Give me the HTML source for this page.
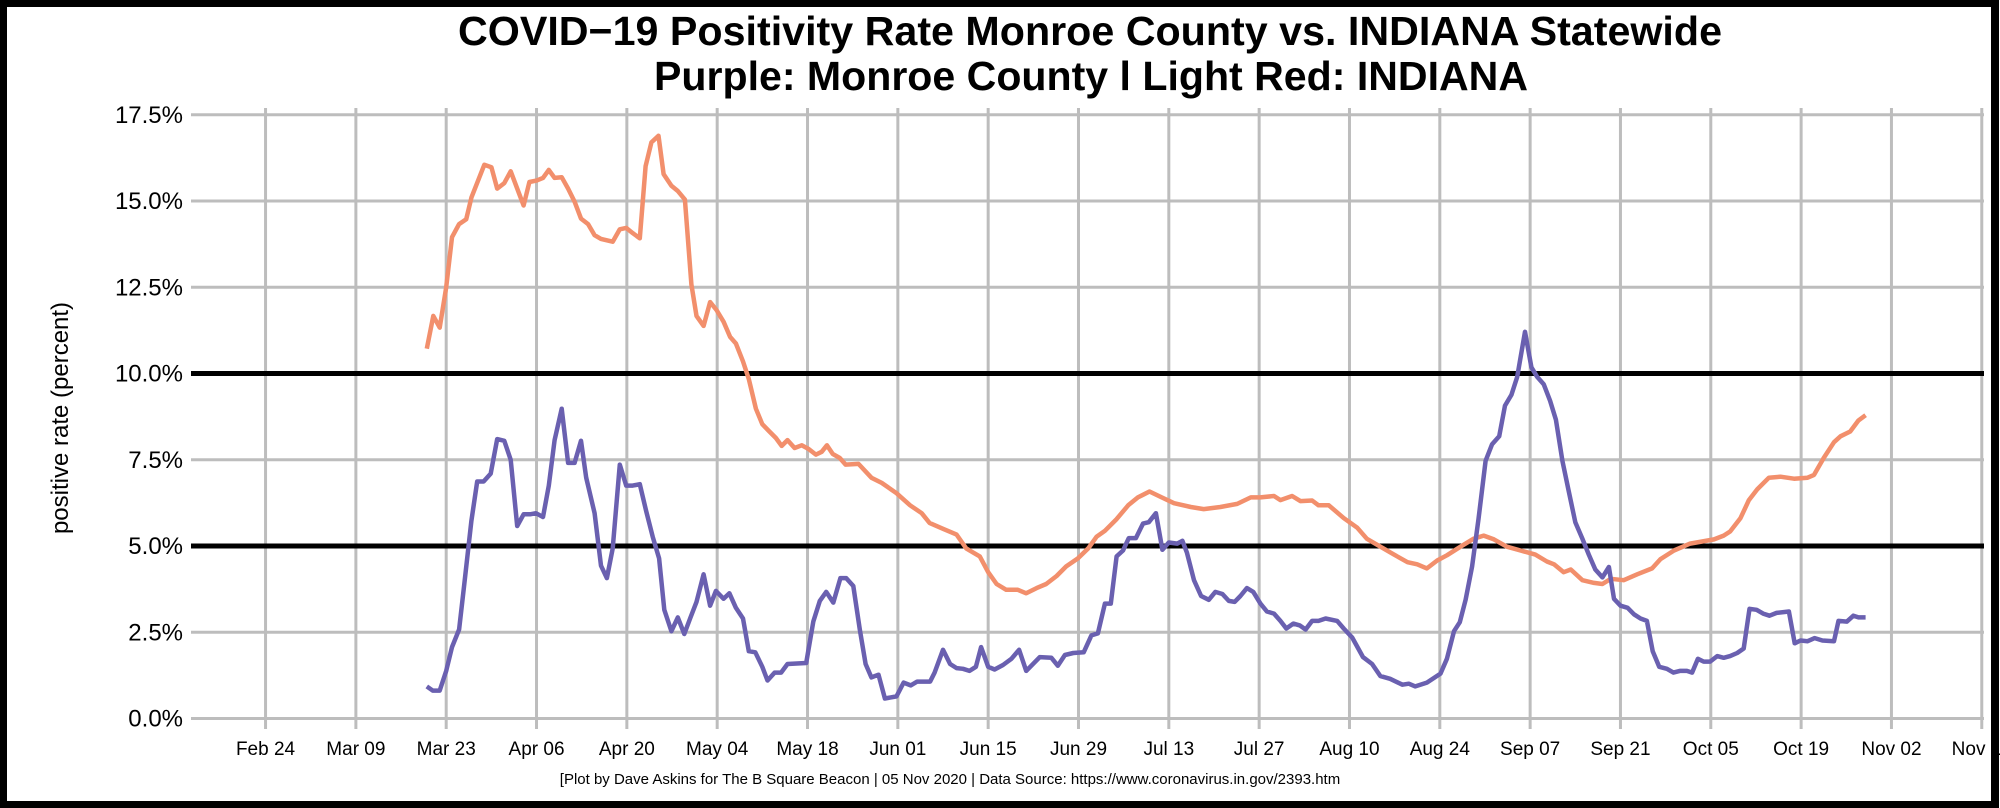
<!DOCTYPE html>
<html><head><meta charset="utf-8"><style>
html,body{margin:0;padding:0;background:#fff;}
svg{display:block;font-family:"Liberation Sans",Arial,sans-serif;}
</style></head><body>
<svg id="chart" width="2000" height="808" viewBox="0 0 2000 808">
<rect x="0" y="0" width="2000" height="808" fill="#fff"/>
<g id="grid"></g>
<g id="refs"></g>
<g id="series"></g>
<g id="axes"></g>
<text x="1090" y="45" text-anchor="middle" font-size="41" font-weight="bold" textLength="1264" lengthAdjust="spacingAndGlyphs">COVID−19 Positivity Rate Monroe County vs. INDIANA Statewide</text>
<text x="1091" y="90" text-anchor="middle" font-size="41" font-weight="bold" textLength="874" lengthAdjust="spacingAndGlyphs">Purple: Monroe County l Light Red: INDIANA</text>
<text transform="translate(68,418) rotate(-90)" text-anchor="middle" font-size="24">positive rate (percent)</text>
<text x="950" y="784" text-anchor="middle" font-size="15">[Plot by Dave Askins for The B Square Beacon | 05 Nov 2020 | Data Source: https://www.coronavirus.in.gov/2393.htm</text>
<rect x="3" y="3" width="1992" height="802" fill="none" stroke="#000" stroke-width="8"/>
</svg>
<script>
// days since Mar 23, 2020
const indianaDays = [-3,-2,-1,0,0.9,2,3.1,3.9,5.9,7,7.9,9,10,11,12,12.9,14,15,15.9,16.8,17.9,18.9,19.9,20.9,22,23,24,25.8,26.9,27.9,28.9,30,30.9,31.8,32.9,33.7,34.9,35.9,37,38,38.8,39.9,40.9,41.9,43,44,44.9,46,46.9,48,49,50.1,51.1,52,52.9,54,55.1,56.1,57.3,58.2,59,59.9,61,61.9,63.9,65.9,67.5,69.8,71.9,73.7,74.9,77,79.1,80.6,82.7,84,85.3,86.8,88.6,89.9,91.5,93,94.6,96.1,97.9,99.5,100.8,102.1,103.9,105.7,107.2,109,110.9,112.8,115.4,117.4,120,122.6,124.7,126.2,128.3,129.3,131.1,132.4,134.2,135.2,136.8,139.1,141.2,142.7,144.8,146.9,149,150.5,152,153.6,155.1,157.2,159.2,160.8,162.4,164.4,166.5,168.8,170.6,171.7,173.2,174.3,176.1,177.9,179.2,180.5,182.5,184.6,186.9,188.2,190.3,192.8,196.5,198,199,200.6,201.9,203.2,205,206.8,208.9,211,212,213.5,215.1,216.1,217.6,218.9,220];
const indianaValues = [10.72,11.67,11.33,12.5,13.95,14.33,14.47,15.1,16.05,15.98,15.36,15.52,15.86,15.36,14.87,15.55,15.59,15.67,15.9,15.67,15.69,15.36,14.98,14.49,14.33,14.01,13.9,13.82,14.18,14.22,14.07,13.92,16.01,16.7,16.89,15.78,15.44,15.29,15.04,12.58,11.67,11.38,12.07,11.84,11.5,11.06,10.87,10.35,9.84,8.98,8.53,8.32,8.13,7.9,8.07,7.84,7.92,7.82,7.65,7.73,7.92,7.67,7.55,7.36,7.38,6.98,6.83,6.53,6.18,5.95,5.67,5.5,5.33,4.93,4.7,4.24,3.9,3.73,3.73,3.63,3.78,3.9,4.13,4.41,4.64,4.93,5.27,5.44,5.78,6.18,6.41,6.58,6.41,6.24,6.13,6.07,6.13,6.22,6.41,6.41,6.45,6.33,6.45,6.3,6.32,6.18,6.18,5.81,5.53,5.21,4.98,4.75,4.53,4.47,4.35,4.58,4.73,4.98,5.21,5.3,5.19,4.98,4.87,4.75,4.55,4.47,4.24,4.32,4.01,3.93,3.9,4.05,4.01,4.18,4.35,4.62,4.87,5.07,5.19,5.3,5.42,5.81,6.33,6.64,6.98,7.01,6.95,6.98,7.06,7.55,8.01,8.18,8.32,8.64,8.79];
const monroeDays = [-3,-2.1,-1,0,0.9,2,2.8,3.9,4.8,5.8,6.9,7.9,9,10,11,12,13,13.9,15,15.9,16.8,17.9,18.9,19.9,20.9,21.7,23,24,24.9,25.8,26.9,27.9,28.9,30,31,32,33,33.8,34.9,35.9,36.9,37.8,38.8,39.9,40.9,41.8,43,43.9,44.9,46,46.9,47.9,49,49.8,50.9,51.9,52.9,55.8,56.9,57.9,58.9,60,61.1,62,63.1,64.1,65,65.9,67,68,69.8,70.9,72,73,75,75.7,77,78.1,79.1,80.1,81.1,82.1,82.9,84,85,86.3,87.6,88.8,89.9,92,93.8,94.8,95.9,97.2,98.8,100,101,102.1,103,103.9,104.9,105.8,106.9,108,108.9,110,111,112,113.3,114.1,114.8,115.9,117,118.2,119.2,120.3,121.3,122.2,123.1,124.1,125.1,126.2,127.2,128.3,129.3,130.2,131.3,132.3,133.2,134.2,135.2,136.3,138.1,139.1,140.4,142.1,143.5,144.8,146.3,148.2,149.2,150.2,152,154.1,155.1,156.2,157.1,158,159,160,161.1,162.1,163.2,164.1,165.1,166,167.2,168.2,169.1,170.1,171.1,172,173,174,175,176.1,177.1,178.1,179.2,180.2,181,182,183.1,184.1,185.1,186.1,187,188,189.2,190.2,191.2,192.3,193.1,194,194.9,195.9,197,198,199,200.1,201.1,202,203.1,204.1,205.1,206.2,208.1,209,209.9,211,212.1,213.3,215.1,215.8,217.1,218.1,218.9,220];
const monroeValues = [0.93,0.81,0.81,1.38,2.07,2.58,3.9,5.73,6.87,6.87,7.1,8.1,8.05,7.5,5.58,5.92,5.92,5.95,5.84,6.75,8.07,8.98,7.41,7.41,8.05,6.98,5.95,4.43,4.07,4.93,7.36,6.75,6.75,6.79,6.01,5.27,4.64,3.15,2.53,2.93,2.45,2.9,3.38,4.18,3.27,3.7,3.47,3.63,3.21,2.9,1.95,1.92,1.5,1.1,1.33,1.33,1.58,1.61,2.81,3.41,3.67,3.36,4.07,4.07,3.84,2.58,1.58,1.19,1.27,0.58,0.64,1.04,0.96,1.07,1.07,1.33,1.99,1.58,1.46,1.44,1.38,1.5,2.07,1.5,1.42,1.55,1.73,1.99,1.38,1.78,1.76,1.53,1.84,1.9,1.92,2.41,2.47,3.33,3.33,4.7,4.87,5.23,5.23,5.65,5.69,5.95,4.89,5.1,5.07,5.15,4.81,4.01,3.55,3.44,3.67,3.61,3.41,3.38,3.55,3.78,3.67,3.33,3.1,3.04,2.83,2.61,2.75,2.7,2.58,2.83,2.83,2.9,2.83,2.61,2.35,1.78,1.58,1.23,1.15,0.98,1.01,0.93,1.04,1.3,1.73,2.53,2.79,3.44,4.41,5.78,7.47,7.95,8.18,9.07,9.38,9.9,11.21,10.18,9.9,9.69,9.21,8.66,7.47,6.58,5.69,5.21,4.75,4.32,4.09,4.39,3.47,3.27,3.21,3.02,2.9,2.83,1.95,1.5,1.44,1.33,1.38,1.38,1.33,1.73,1.65,1.65,1.81,1.76,1.81,1.9,2.03,3.18,3.15,3.04,2.98,3.06,3.1,2.18,2.26,2.24,2.33,2.26,2.24,2.83,2.81,2.98,2.93,2.93];
const xTickDays = [-28,-14,0,14,28,42,56,70,84,98,112,126,140,154,168,182,196,210,224,238];
const xTickLabels = ["Feb 24","Mar 09","Mar 23","Apr 06","Apr 20","May 04","May 18","Jun 01","Jun 15","Jun 29","Jul 13","Jul 27","Aug 10","Aug 24","Sep 07","Sep 21","Oct 05","Oct 19","Nov 02","Nov 16"];
const yTicks = [0,2.5,5,7.5,10,12.5,15,17.5];
const yTickLabels = ["0.0%","2.5%","5.0%","7.5%","10.0%","12.5%","15.0%","17.5%"];
const refLevels = [5,10];

const NS="http://www.w3.org/2000/svg";
const X0=446.2, PXD=6.452, Y0=718.5, PXV=34.5, LEFT=191, RIGHT=1984;
function xs(d){return X0+d*PXD;}
function ys(v){return Y0-v*PXV;}
function mk(tag,attrs,parent){const e=document.createElementNS(NS,tag);for(const k in attrs)e.setAttribute(k,attrs[k]);parent.appendChild(e);return e;}
const grid=document.getElementById('grid'), axes=document.getElementById('axes'), refs=document.getElementById('refs'), series=document.getElementById('series');

yTicks.forEach((v,i)=>{
  const l=mk('line',{x1:LEFT,x2:RIGHT,y1:ys(v),y2:ys(v),stroke:'#bdbdbd','stroke-width':3},grid);
  
  
  const t=mk('text',{x:183,y:ys(v)+8,'text-anchor':'end','font-size':24},axes);
  t.textContent=yTickLabels[i];
  
  
});
xTickDays.forEach((d,i)=>{
  const l=mk('line',{x1:xs(d),x2:xs(d),y1:108,y2:729,stroke:'#bdbdbd','stroke-width':3},grid);
  
  
  const t=mk('text',{x:xs(d),y:755,'text-anchor':'middle','font-size':19},axes);
  t.textContent=xTickLabels[i];
  
  
});
refLevels.forEach(v=>{
  const l=mk('line',{x1:LEFT,x2:RIGHT,y1:ys(v),y2:ys(v),stroke:'#000','stroke-width':5},refs);
  
  
});
function path(days,vals){return days.map((d,i)=>(i?'L':'M')+xs(d).toFixed(1)+','+ys(vals[i]).toFixed(1)).join('');}
const pi=mk('path',{d:path(indianaDays,indianaValues),fill:'none',stroke:'#f28f6c','stroke-width':4.5,'stroke-linejoin':'round'},series);


const pm=mk('path',{d:path(monroeDays,monroeValues),fill:'none',stroke:'#6a60b0','stroke-width':4.5,'stroke-linejoin':'round'},series);


</script>
</body></html>
